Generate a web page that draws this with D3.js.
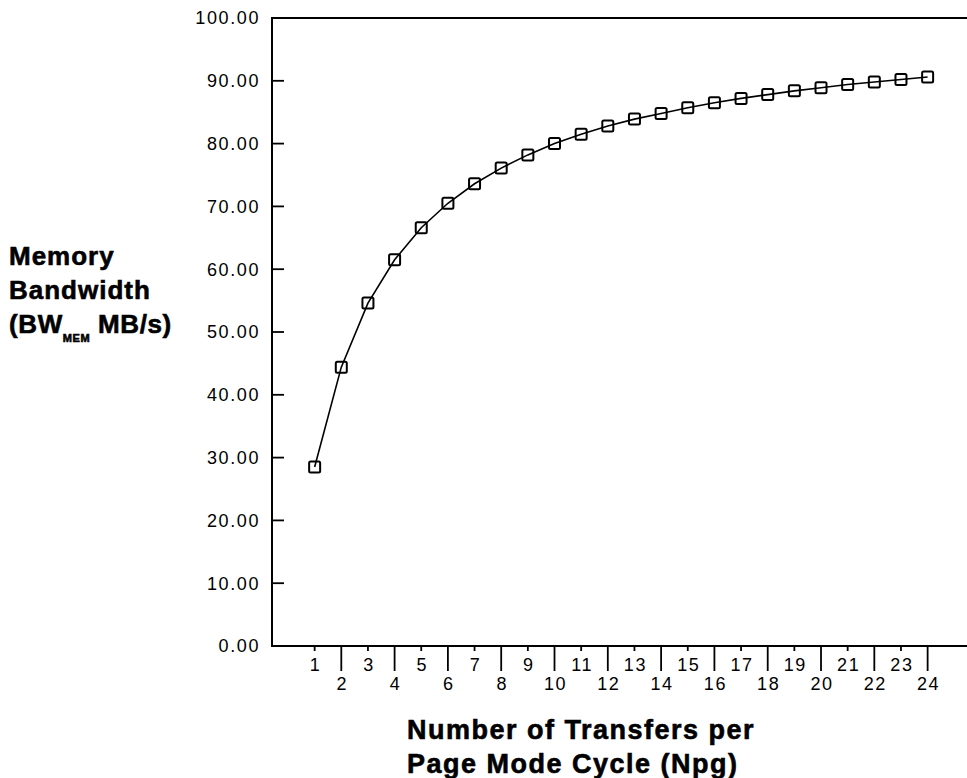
<!DOCTYPE html>
<html>
<head>
<meta charset="utf-8">
<script src="https://cdn.jsdelivr.net/npm/d3@7"></script>
<style>
  body { margin: 0; background: #fff; }
  svg text { font-family: "Liberation Sans", Arial, Helvetica, sans-serif; fill: #000; }
</style>
</head>
<body>
<div id="chart"></div>
<script>
// data
var transfers = [1, 2, 3, 4, 5, 6, 7, 8, 9, 10, 11, 12, 13, 14, 15, 16, 17, 18, 19, 20, 21, 22, 23, 24];
var bandwidth = [28.5, 44.4, 54.6, 61.5, 66.6, 70.5, 73.6, 76.1, 78.2, 80.0, 81.5, 82.8,
                 83.9, 84.8, 85.7, 86.5, 87.2, 87.8, 88.4, 88.9, 89.4, 89.8, 90.2, 90.6];
var yTicks = [0, 10, 20, 30, 40, 50, 60, 70, 80, 90, 100];
var xTicks = transfers;

var width = 967, height = 778;

var svg = d3.select("#chart").append("svg")
            .attr("width", width)
            .attr("height", height);

var x = d3.scaleLinear().domain([-0.6, 25.5]).range([272, 967.6]);
var y = d3.scaleLinear().domain([0, 100]).range([646, 18]);

// frame: left, top, bottom
svg.append("path")
   .attr("d", "M" + x(25.5) + "," + y(100) + "H" + x(-0.6) + "V" + y(0) + "H" + x(25.5))
   .attr("fill", "none")
   .attr("stroke", "black")
   .attr("stroke-width", 2);

// y ticks pointing inward
svg.append("g").selectAll("line")
   .data(yTicks)
   .enter().append("line")
   .attr("x1", x(-0.6))
   .attr("x2", x(-0.6) + 12)
   .attr("y1", function(d) { return y(d); })
   .attr("y2", function(d) { return y(d); })
   .attr("stroke", "black")
   .attr("stroke-width", 1.8);

svg.append("g").selectAll("text")
   .data(yTicks)
   .enter().append("text")
   .attr("x", 260)
   .attr("y", function(d) { return y(d); })
   .attr("dy", "0.36em")
   .attr("text-anchor", "end")
   .style("font-size", "18px")
   .style("letter-spacing", "1.6px")
   .text(d3.format(".2f"));

// x axis ticks: odd short, even long
var xg = svg.append("g");
xg.selectAll("line")
  .data(xTicks)
  .enter().append("line")
  .attr("x1", function(d) { return x(d); })
  .attr("x2", function(d) { return x(d); })
  .attr("y1", y(0))
  .attr("y2", function(d) { return d % 2 ? y(0) + 5 : y(0) + 25; })
  .attr("stroke", "black")
  .attr("stroke-width", 1.8);

xg.selectAll("text")
  .data(xTicks)
  .enter().append("text")
  .attr("x", function(d) { return x(d) + 1; })
  .attr("y", function(d) { return d % 2 ? 671 : 690; })
  .attr("text-anchor", "middle")
  .style("font-size", "18px")
  .style("letter-spacing", "1.6px")
  .text(function(d) { return d; });

// the curve
var pts = transfers.map(function(t, i) { return [t, bandwidth[i]]; });
var line = d3.line()
             .x(function(d) { return x(d[0]); })
             .y(function(d) { return y(d[1]); });

svg.append("path")
   .datum(pts)
   .attr("d", line)
   .attr("fill", "none")
   .attr("stroke", "black")
   .attr("stroke-width", 1.6);

var sq = 11;
svg.append("g").selectAll("rect")
   .data(pts)
   .enter().append("rect")
   .attr("x", function(d) { return x(d[0]) - sq / 2; })
   .attr("y", function(d) { return y(d[1]) - sq / 2; })
   .attr("width", sq)
   .attr("height", sq)
   .attr("rx", 1.5)
   .attr("fill", "none")
   .attr("stroke", "black")
   .attr("stroke-width", 2);

// y title
var yt = svg.append("g")
            .style("font-size", "26px")
            .style("font-weight", "bold")
            .style("stroke", "black")
            .style("stroke-width", "0.6px")
            .style("letter-spacing", "1px");
yt.append("text").attr("x", 9).attr("y", 265).text("Memory");
yt.append("text").attr("x", 9).attr("y", 299).text("Bandwidth");
var l3 = yt.append("text").attr("x", 9).attr("y", 333).style("letter-spacing", "0.6px");
l3.append("tspan").text("(BW");
l3.append("tspan").attr("dy", 9).style("font-size", "11px").text("MEM");
l3.append("tspan").attr("dy", -9).text(" MB/s)");

// x title
var xt = svg.append("g")
            .style("font-size", "27px")
            .style("font-weight", "bold")
            .style("stroke", "black")
            .style("stroke-width", "0.6px")
            .style("letter-spacing", "1.5px");
xt.append("text").attr("x", 407).attr("y", 739).text("Number of Transfers per");
xt.append("text").attr("x", 407).attr("y", 773).text("Page Mode Cycle (Npg)");
</script>
</body>
</html>
